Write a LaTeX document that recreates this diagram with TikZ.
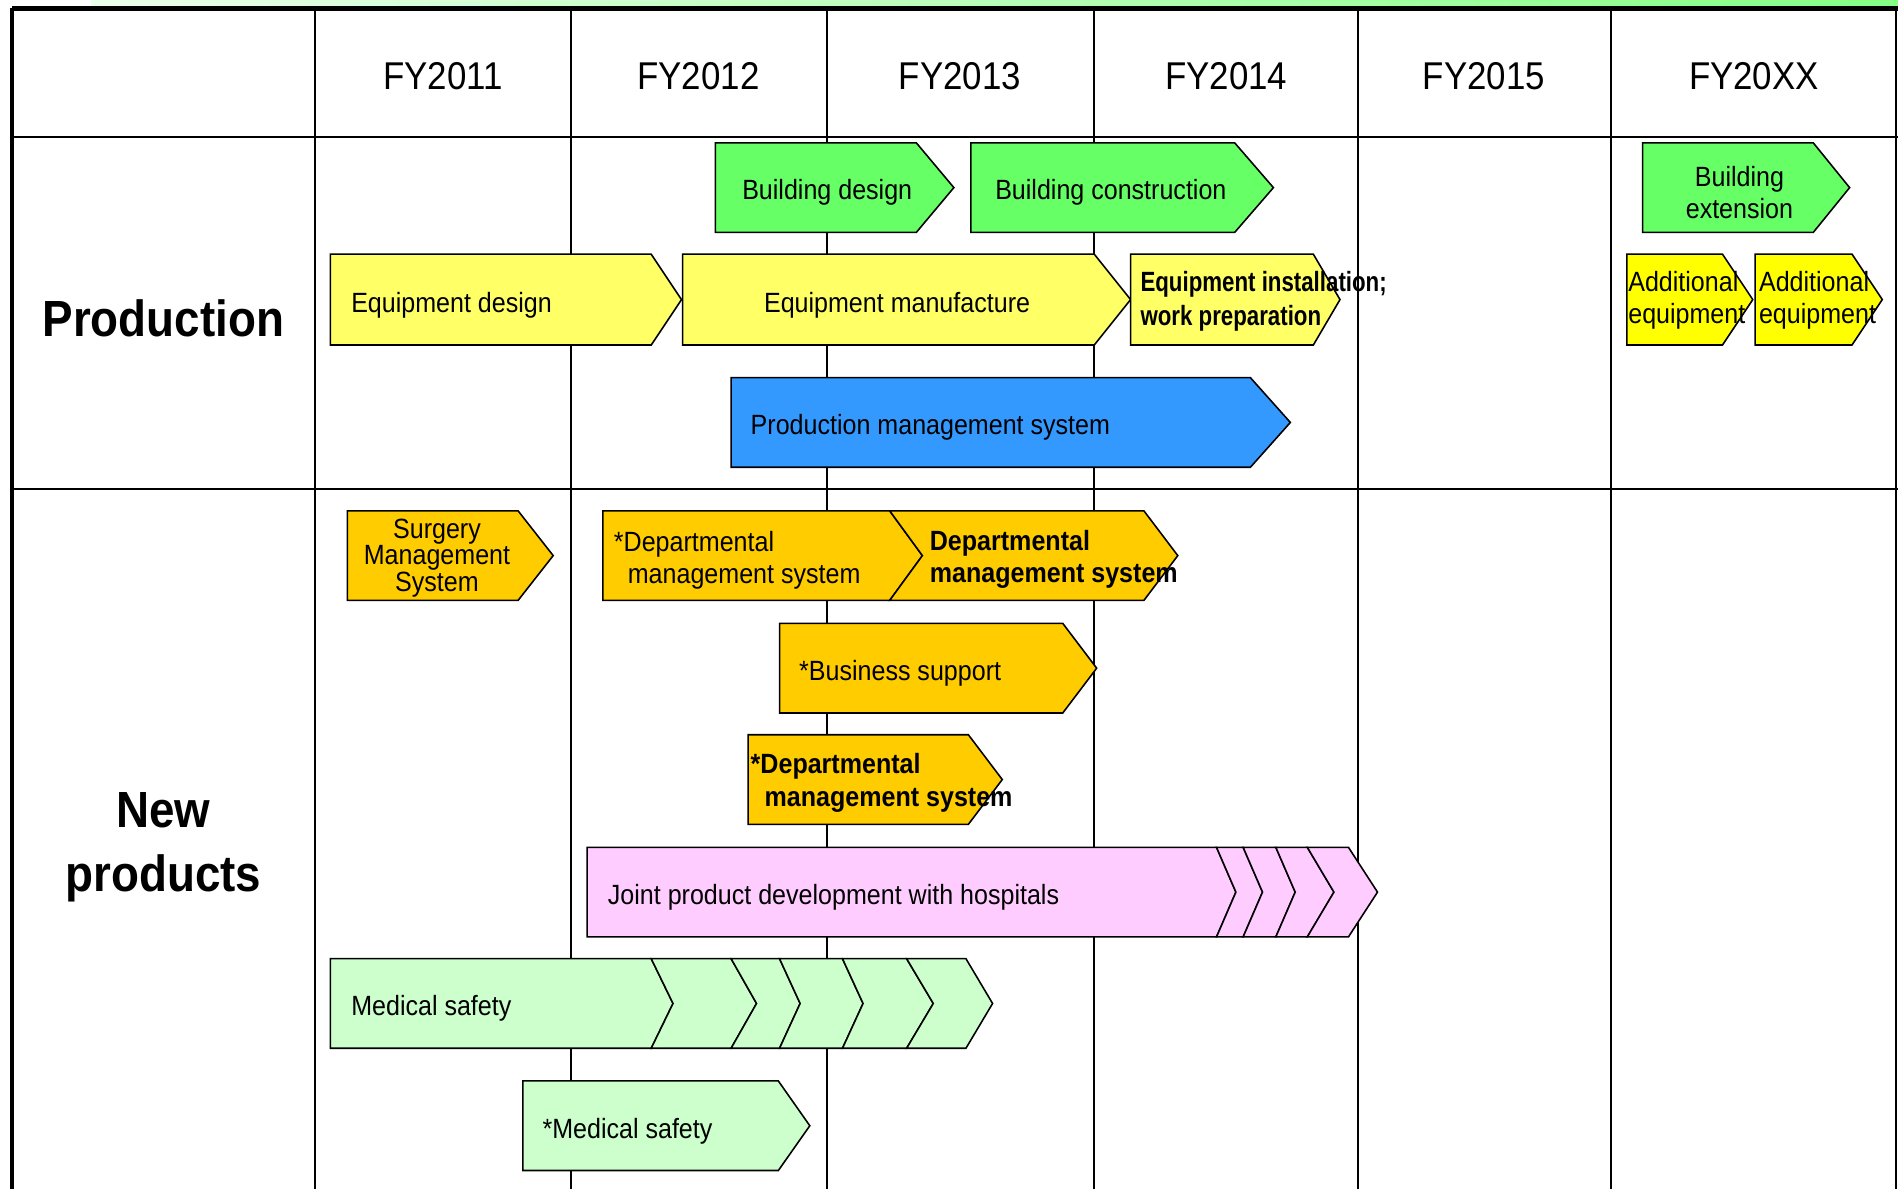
\documentclass[tikz,border=0pt]{standalone}
\usepackage{fontspec}
\setmainfont[FakeStretch=0.9]{Liberation Sans}
\newfontfamily\estrecha[FakeStretch=0.8]{Liberation Sans}
\usetikzlibrary{positioning}

\definecolor{verde}{HTML}{66FF66}
\definecolor{verdeclaro}{HTML}{CCFFCC}
\definecolor{amarillo}{HTML}{FFFF66}
\definecolor{amarillofuerte}{HTML}{FFFF00}
\definecolor{azul}{HTML}{3399FF}
\definecolor{naranja}{HTML}{FFCC00}
\definecolor{rosa}{HTML}{FFCCFF}

\tikzset{
    barra/.style={
        draw=black,
        line width=1.3pt,
        line join=miter
    },
    rejilla/.style={
        draw=black,
        line width=1.6pt
    },
    texto/.style={
        font=\fontsize{23}{27}\selectfont,
        inner sep=0pt,
        yshift=-2pt,
        align=left
    },
    anio/.style={
        font=\fontsize{32}{36}\selectfont,
        inner sep=0pt
    },
    fila/.style={
        font=\fontsize{42}{53}\selectfont\bfseries,
        inner sep=0pt,
        align=center
    }
}

\begin{document}
\begin{tikzpicture}[
    x=1pt,
    y=-1pt
]

    \useasboundingbox (0,0) rectangle (1568,982);

    % Franja superior
    \shade[left color=green!8, right color=green!35!verdeclaro]
        (75,0) rectangle (1568,5);

    % Rejilla
    \foreach \x in {260,472,683,904,1122,1331,1566}
        \draw[rejilla] (\x,7) -- (\x,982);
    \draw[rejilla] (10,113) -- (1568,113);
    \draw[rejilla] (10,404) -- (1568,404);
    \draw[line width=3.5pt] (10,7) -- (1568,7);
    \draw[line width=3.5pt] (10,7) -- (10,982);

    % Encabezados
    \node[anio] (y11) at (366,63)  {FY2011};
    \node[anio] (y12) at (577,63)  {FY2012};
    \node[anio] (y13) at (793,63)  {FY2013};
    \node[anio] (y14) at (1013,63) {FY2014};
    \node[anio] (y15) at (1226,63) {FY2015};
    \node[anio] (yxx) at (1449,63) {FY20XX};

    \node[fila] (prod) at (135,263) {Production};
    \node[fila] (nuevo) at (135,700) {New\\products};

    % Production: edificio
    \draw[barra, fill=verde]
        (591,118) -- (757,118) -- (788,155) -- (757,192) -- (591,192) -- cycle;
    \node[texto, anchor=west] (bd) at (613,157) {Building design};

    \draw[barra, fill=verde]
        (802,118) -- (1020,118) -- (1052,155) -- (1020,192) -- (802,192) -- cycle;
    \node[texto, anchor=west] (bc) at (822,157) {Building construction};

    \draw[barra, fill=verde]
        (1357,118) -- (1498,118) -- (1528,155) -- (1498,192) -- (1357,192) -- cycle;
    \node[texto, align=center] (be) at (1437,157) {Building\\extension};

    % Production: equipos
    \draw[barra, fill=amarillo]
        (273,210) -- (538,210) -- (563,247.5) -- (538,285) -- (273,285) -- cycle;
    \node[texto, anchor=west] (ed) at (290,250) {Equipment design};

    \draw[barra, fill=amarillo]
        (564,210) -- (904,210) -- (934,247.5) -- (904,285) -- (564,285) -- cycle;
    \node[texto, anchor=west] (em) at (631,250) {Equipment manufacture};

    \draw[barra, fill=amarillo]
        (934,210) -- (1085,210) -- (1107,247.5) -- (1085,285) -- (934,285) -- cycle;
    \node[texto, anchor=west, font=\fontsize{23}{28}\estrecha\bfseries] (ei)
        at (942,247) {Equipment installation;\\work preparation};

    \draw[barra, fill=amarillofuerte]
        (1344,210) -- (1423,210) -- (1448,247.5) -- (1423,285) -- (1344,285) -- cycle;
    \node[texto, anchor=west] (ae1) at (1345,246) {Additional\\equipment};

    \draw[barra, fill=amarillofuerte]
        (1450,210) -- (1530,210) -- (1555,247.5) -- (1530,285) -- (1450,285) -- cycle;
    \node[texto, anchor=west] (ae2) at (1453,246) {Additional\\equipment};

    \draw[barra, fill=azul]
        (604,312) -- (1033,312) -- (1066,349) -- (1033,386) -- (604,386) -- cycle;
    \node[texto, anchor=west] (pms) at (620,351) {Production management system};

    % New products
    \draw[barra, fill=naranja]
        (287,422) -- (428,422) -- (457,459) -- (428,496) -- (287,496) -- cycle;
    \node[texto, align=center, font=\fontsize{23}{22}\selectfont] (sms)
        at (361,459) {Surgery\\Management\\System};

    \draw[barra, fill=naranja]
        (498,422) -- (735,422) -- (762,459) -- (735,496) -- (498,496) -- cycle;
    \node[texto, anchor=west] (dms1) at (507,461)
        {*Departmental\\\ \ management system};

    \draw[barra, fill=naranja]
        (735,422) -- (945,422) -- (973,459) -- (945,496) -- (735,496) -- (762,459) -- cycle;
    \node[texto, anchor=west, font=\fontsize{23}{27}\selectfont\bfseries] (dms2)
        at (768,460) {Departmental\\management system};

    \draw[barra, fill=naranja]
        (644,515) -- (878,515) -- (906,552) -- (878,589) -- (644,589) -- cycle;
    \node[texto, anchor=west] (bs) at (660,554) {*Business support};

    \draw[barra, fill=naranja]
        (618,607) -- (800,607) -- (828,644) -- (800,681) -- (618,681) -- cycle;
    \node[texto, anchor=west, font=\fontsize{23}{27}\selectfont\bfseries] (dms3)
        at (620,645) {*Departmental\\\ \ management system};

    % Joint development
    \draw[barra, fill=rosa]
        (485,700) -- (1005,700) -- (1021,737) -- (1005,774) -- (485,774) -- cycle;
    \foreach \a/\n/\b/\t in {1005/1021/1027/1043, 1027/1043/1054/1070,
                              1054/1070/1080/1102, 1080/1102/1114/1138}
        \draw[barra, fill=rosa]
            (\a,700) -- (\b,700) -- (\t,737) -- (\b,774) -- (\a,774) -- (\n,737) -- cycle;
    \node[texto, anchor=west] (jpd) at (502,739) {Joint product development with hospitals};

    % Medical safety
    \draw[barra, fill=verdeclaro]
        (273,792) -- (538,792) -- (556,829) -- (538,866) -- (273,866) -- cycle;
    \foreach \a/\n/\b/\t in {538/556/604/625, 604/625/644/661, 644/661/696/713,
                              696/713/749/771, 749/771/798/820}
        \draw[barra, fill=verdeclaro]
            (\a,792) -- (\b,792) -- (\t,829) -- (\b,866) -- (\a,866) -- (\n,829) -- cycle;
    \node[texto, anchor=west] (ms) at (290,831) {Medical safety};

    \draw[barra, fill=verdeclaro]
        (432,893) -- (643,893) -- (669,930) -- (643,967) -- (432,967) -- cycle;
    \node[texto, anchor=west] (ms2) at (448,933) {*Medical safety};

\end{tikzpicture}
\end{document}
